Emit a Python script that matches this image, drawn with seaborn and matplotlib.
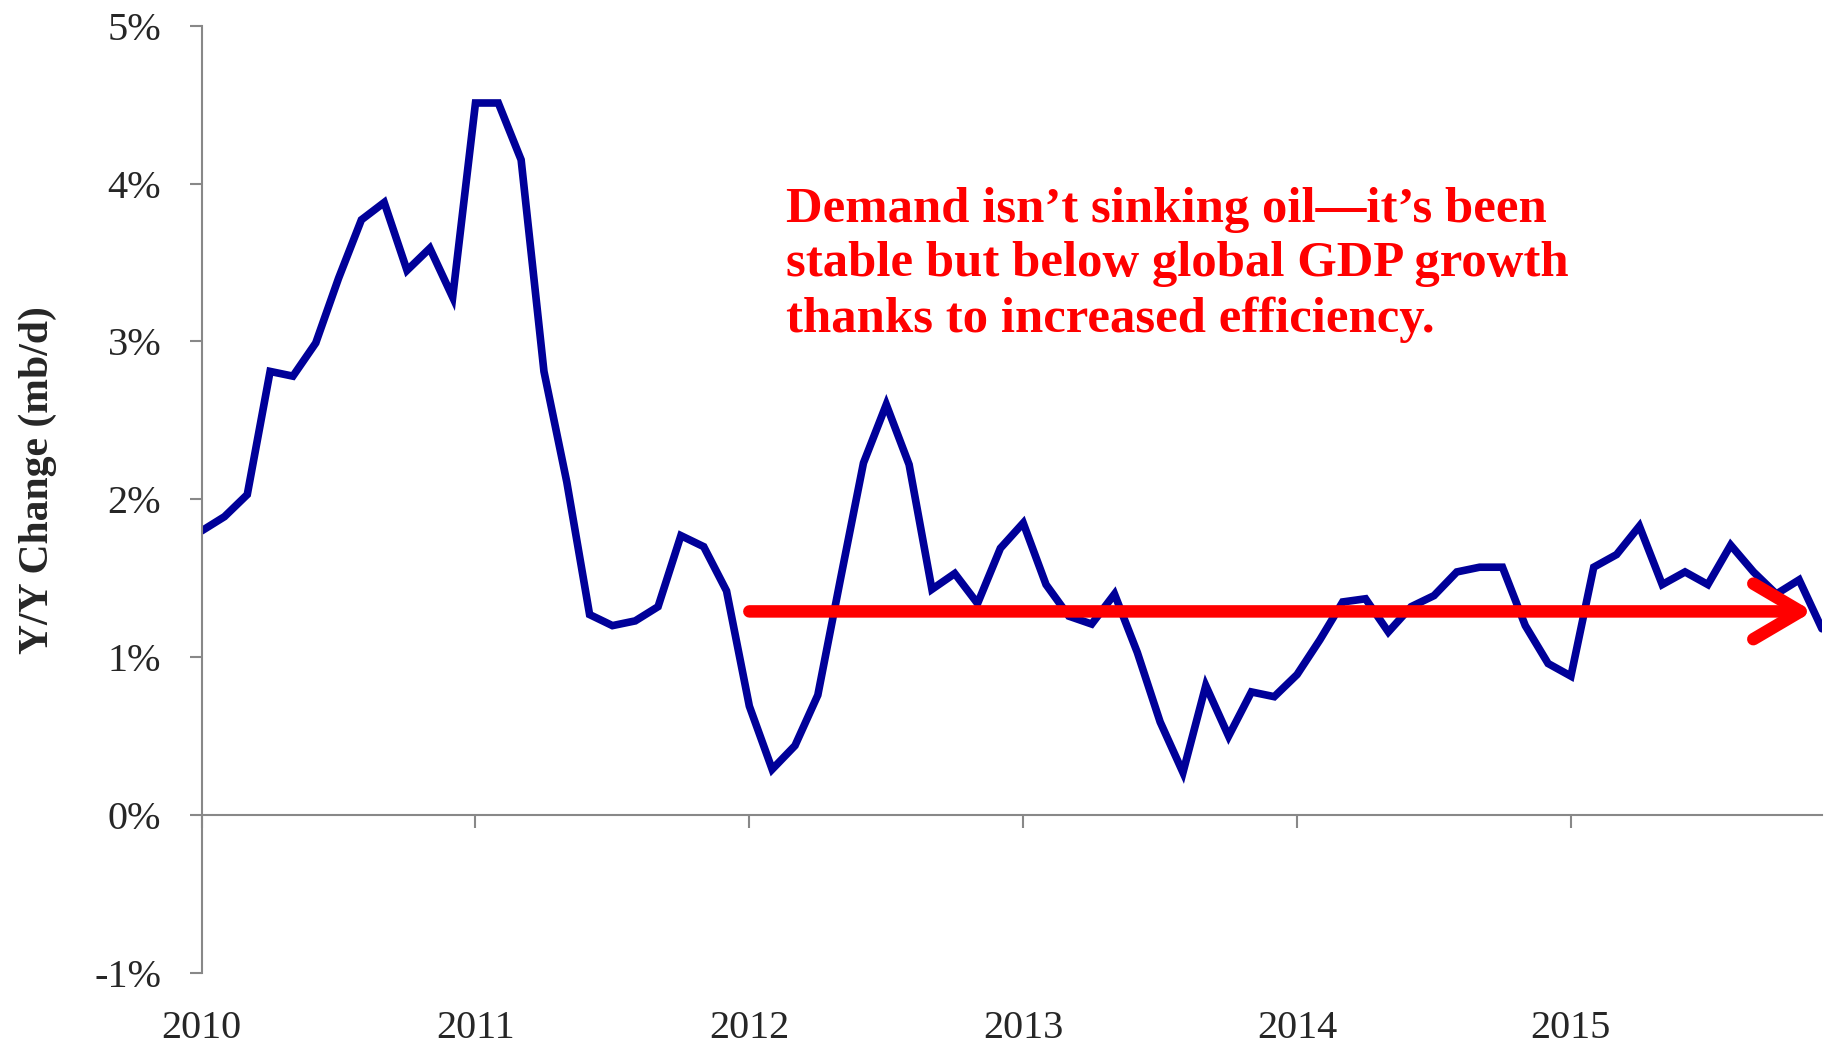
import pandas as pd
import seaborn as sns
import matplotlib.pyplot as plt

# monthly y/y change in global oil demand, Jan 2010 - Dec 2015 (percent)
years = ['2010', '2011', '2012', '2013', '2014', '2015']
yoy_2010 = [1.80, 1.89, 2.03, 2.81, 2.78, 2.99, 3.40, 3.77, 3.88, 3.45, 3.59, 3.28]
yoy_2011 = [4.51, 4.51, 4.15, 2.81, 2.11, 1.27, 1.20, 1.23, 1.32, 1.77, 1.70, 1.42]
yoy_2012 = [0.69, 0.29, 0.44, 0.76, 1.50, 2.23, 2.60, 2.22, 1.43, 1.53, 1.34, 1.69]
yoy_2013 = [1.85, 1.46, 1.26, 1.21, 1.40, 1.03, 0.59, 0.27, 0.82, 0.50, 0.78, 0.75]
yoy_2014 = [0.89, 1.11, 1.35, 1.37, 1.16, 1.32, 1.39, 1.54, 1.57, 1.57, 1.20, 0.96]
yoy_2015 = [0.88, 1.57, 1.65, 1.83, 1.46, 1.54, 1.46, 1.71, 1.54, 1.40, 1.49, 1.18]

trend_level = 1.29
trend_start = 24      # Jan 2012
trend_end = 70.6

note = ("Demand isn\u2019t sinking oil\u2014it\u2019s been\n"
        "stable but below global GDP growth\n"
        "thanks to increased efficiency.")

values = yoy_2010 + yoy_2011 + yoy_2012 + yoy_2013 + yoy_2014 + yoy_2015
df = pd.DataFrame({'month': range(len(values)), 'yoy': values})

sns.set_theme(style='white')
plt.rcParams['font.family'] = ['Liberation Serif', 'DejaVu Serif']

gray = '#888888'
fig = plt.figure(figsize=(18.28, 10.46), dpi=100)
ax = fig.add_axes([0.1103, 0.0698, 0.8864, 0.9057])

sns.lineplot(data=df, x='month', y='yoy', color='#000099', linewidth=5.5, ax=ax,
             solid_joinstyle='miter')

# flat trend arrow
ax.annotate('', xy=(trend_end, trend_level), xytext=(trend_start, trend_level),
            arrowprops=dict(arrowstyle='->,head_length=1.7,head_width=1.0',
                            color='#ff0000', lw=9, shrinkA=0, shrinkB=0,
                            mutation_scale=20, capstyle='round'))

ax.text(25.6, 3.98, note, color='#ff0000', fontsize=36.5, fontweight='bold',
        va='top', ha='left', linespacing=1.25)

ax.set_xlim(0, len(values) - 1)
ax.set_ylim(-1, 5)
ax.set_yticks(range(-1, 6))
ax.set_yticklabels([f'{v}%' for v in range(-1, 6)])
ax.set_xticks(range(0, len(values), 12))
ax.set_xticklabels(years)

for side in ['top', 'right']:
    ax.spines[side].set_visible(False)
ax.spines['left'].set_color(gray)
ax.spines['left'].set_linewidth(1.5)
ax.spines['bottom'].set_position(('data', 0))
ax.spines['bottom'].set_color(gray)
ax.spines['bottom'].set_linewidth(1.5)

ax.tick_params(axis='y', length=9, width=1.5, color=gray, pad=20, labelsize=29,
               left=True)
ax.tick_params(axis='x', length=9, width=1.5, color=gray, pad=131, labelsize=29,
               bottom=True, direction='out')

ax.set_xlabel('')
ax.set_ylabel('Y/Y Change (mb/d)', fontsize=30, fontweight='bold')
ax.yaxis.set_label_coords(-0.089, 0.52)

fig.savefig('out.png', dpi=100)
